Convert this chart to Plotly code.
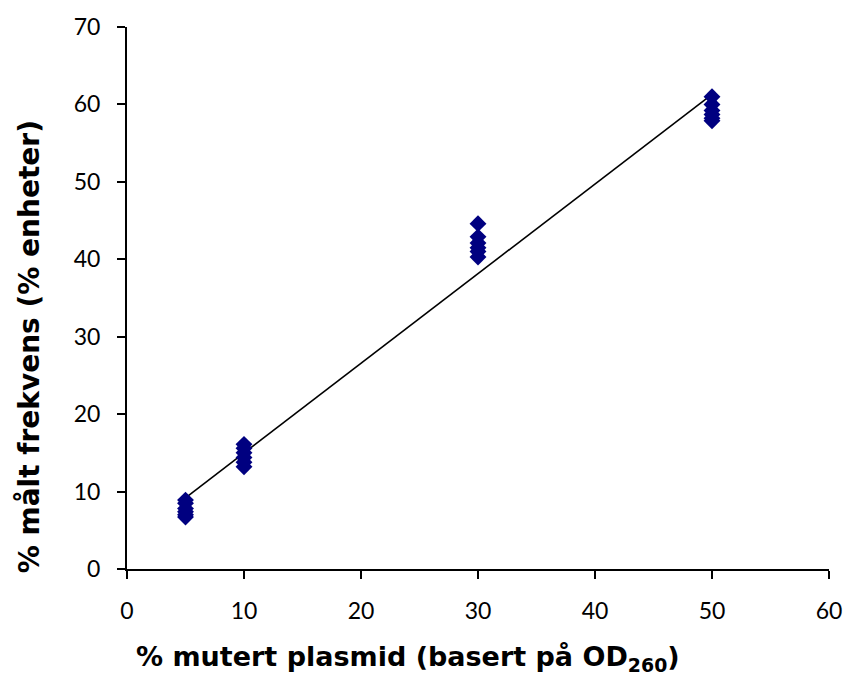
import numpy as np
import plotly.graph_objects as go

# Data
x_levels = [5, 10, 30, 50]
y_at_5 = [8.9, 8.5, 7.8, 7.4, 7.0, 6.7]
y_at_10 = [16.1, 15.6, 15.0, 14.4, 13.8, 13.2]
y_at_30 = [44.6, 42.9, 42.1, 41.5, 41.0, 40.3]
y_at_50 = [61.0, 60.0, 59.2, 58.7, 58.2, 57.9]
x_ticks = [0, 10, 20, 30, 40, 50, 60]
y_ticks = [0, 10, 20, 30, 40, 50, 60, 70]

groups = [y_at_5, y_at_10, y_at_30, y_at_50]
xs = [xv for xv, g in zip(x_levels, groups) for _ in g]
ys = [v for g in groups for v in g]

# Linear trendline (least squares), drawn between min and max x
slope, intercept = np.polyfit(xs, ys, 1)
tx = [min(x_levels), max(x_levels)]
ty = [slope * t + intercept for t in tx]

fig = go.Figure()
fig.add_trace(go.Scatter(x=tx, y=ty, mode="lines",
                         line=dict(color="black", width=1.6),
                         hoverinfo="skip", showlegend=False))
fig.add_trace(go.Scatter(x=xs, y=ys, mode="markers",
                         marker=dict(symbol="diamond", size=13, color="#000080",
                                     line=dict(width=0)),
                         showlegend=False))

tick_font = "Lato, 'Open Sans', sans-serif"
title_font = "'DejaVu Sans', sans-serif"
L, R, T, B = 127, 838, 22, 569
fig.update_layout(
    width=854, height=679,
    margin=dict(l=L, r=854 - R, t=T, b=679 - B),
    paper_bgcolor="white", plot_bgcolor="white",
    font=dict(family=tick_font, color="black", size=23),
    xaxis=dict(range=[0, 60], tickvals=x_ticks, showgrid=False, zeroline=False,
               showline=True, linecolor="black", linewidth=2,
               ticks="outside", ticklen=8, tickwidth=1.5, tickcolor="black",
               tickfont=dict(size=23, family=tick_font), ticklabelstandoff=12),
    yaxis=dict(range=[0, 70], tickvals=y_ticks, showgrid=False, zeroline=False,
               showline=True, linecolor="black", linewidth=2,
               ticks="outside", ticklen=8, tickwidth=1.5, tickcolor="black",
               tickfont=dict(size=23, family=tick_font), ticklabelstandoff=12),
    annotations=[
        dict(text="<b>% mutert plasmid (basert på OD<sub>260</sub>)</b>",
             xref="paper", yref="paper", x=(412 - L) / (R - L), y=-(659 - B) / (B - T),
             xanchor="center", yanchor="middle", showarrow=False,
             font=dict(size=27, family=title_font)),
        dict(text="<b>% målt frekvens (% enheter)</b>",
             xref="paper", yref="paper", x=-(L - 28) / (R - L), y=(B - 345) / (B - T),
             xanchor="center", yanchor="middle", showarrow=False, textangle=-90,
             font=dict(size=28, family=title_font)),
    ],
)

fig.write_html("out.html", config={"displayModeBar": False},
               post_script="document.body.style.margin='0';document.body.style.overflow='hidden';")
